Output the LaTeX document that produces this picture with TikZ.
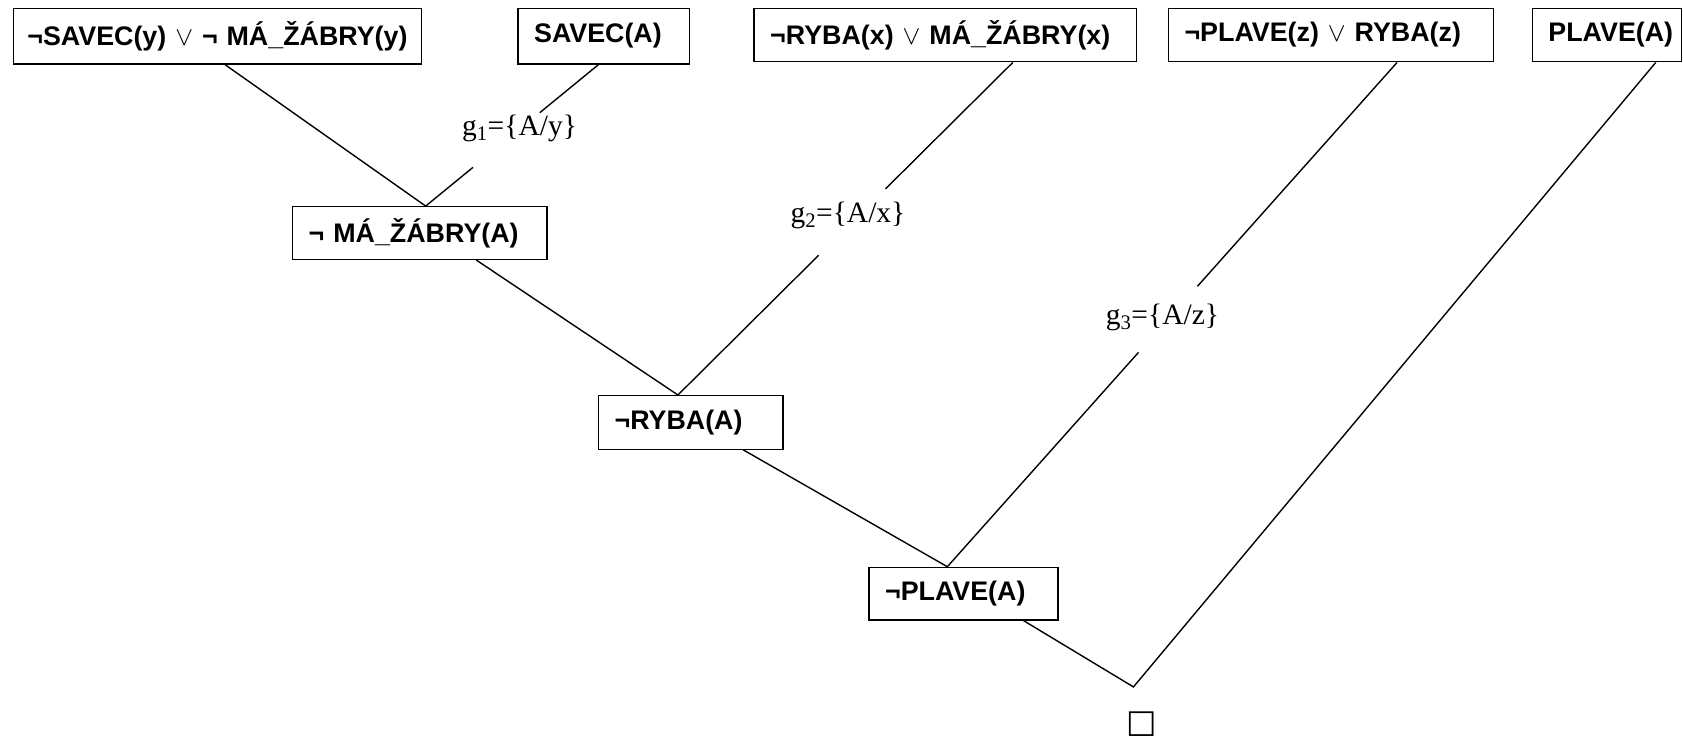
\documentclass[tikz,border=0pt]{standalone}
\usepackage{fontspec}
\setmainfont{Liberation Serif}
\setsansfont{Liberation Sans}
\newfontfamily\symfont{DejaVu Sans}
\usetikzlibrary{calc}
\tikzset{
  clause/.style={draw, line width=1.2pt, anchor=north west, inner xsep=15pt, inner ysep=0pt,
    align=left, font=\sffamily\bfseries\fontsize{25}{28}\selectfont},
  lbl/.style={font=\fontsize{27.5}{30}\selectfont, inner sep=0pt},
  edge/.style={line width=1.3pt}
}
\begin{document}
\begin{tikzpicture}[x=1pt,y=-1pt]
\useasboundingbox (0,0) rectangle (1568,689.5);
% top clauses
\node[clause, inner xsep=2pt, text width=376pt, align=center, minimum height=52pt] (b1) at (12,7) {¬SAVEC(y) $\vee$ ¬ MÁ\_ŽÁBRY(y)};
\node[clause, text width=130pt, minimum height=52pt] (b2) at (482,7) {SAVEC(A)};
\node[clause, text width=326pt, minimum height=50pt] (b3) at (702,7) {¬RYBA(x) $\vee$ MÁ\_ŽÁBRY(x)};
\node[clause, text width=273pt, minimum height=50pt] (b4) at (1088,7) {¬PLAVE(z) $\vee$ RYBA(z)};
\node[clause, text width=109pt, minimum height=50pt] (b5) at (1427,7) {PLAVE(A)};
% resolvents
\node[clause, text width=207pt, minimum height=49pt] (b6) at (272,192) {¬ MÁ\_ŽÁBRY(A)};
\node[clause, text width=142pt, minimum height=50pt] (b7) at (557,368) {¬RYBA(A)};
\node[clause, text width=146pt, minimum height=49pt] (b8) at (809,528) {¬PLAVE(A)};
\node[font=\symfont\fontsize{30}{30}\selectfont, inner sep=0pt] (empty) at (1064,675) {□};
% connection points
\coordinate (s1) at ([xshift=7pt]b1.south);
\coordinate (s2) at ([xshift=-5pt]b2.south);
\coordinate (s3) at ([xshift=63pt]b3.south);
\coordinate (s4) at ([xshift=61.5pt]b4.south);
\coordinate (s5) at ([xshift=45.5pt]b5.south);
\coordinate (t6) at ([xshift=5.5pt]b6.north);
\coordinate (s6) at ([xshift=52.5pt]b6.south);
\coordinate (t7) at ([xshift=-12pt]b7.north);
\coordinate (s7) at ([xshift=49pt]b7.south);
\coordinate (t8) at ([xshift=-15pt]b8.north);
\coordinate (s8) at ([xshift=56pt]b8.south);
\coordinate (m) at (1056,640);
% edges
\draw[edge] (s1) -- (t6);
\draw[edge] (s2) -- ($(s2)!0.34!(t6)$);
\draw[edge] ($(s2)!0.726!(t6)$) -- (t6);
\node[lbl] (g1) at (484,120) {g\textsubscript{1}=\{A/y\}};
\draw[edge] (s6) -- (t7);
\draw[edge] (s3) -- ($(s3)!0.38!(t7)$);
\draw[edge] ($(s3)!0.58!(t7)$) -- (t7);
\node[lbl] (g2) at (790,201) {g\textsubscript{2}=\{A/x\}};
\draw[edge] (s7) -- (t8);
\draw[edge] (s4) -- ($(s4)!0.444!(t8)$);
\draw[edge] ($(s4)!0.575!(t8)$) -- (t8);
\node[lbl] (g3) at (1083,296) {g\textsubscript{3}=\{A/z\}};
\draw[edge] (s8) -- (m) -- (s5);
\end{tikzpicture}
\end{document}
